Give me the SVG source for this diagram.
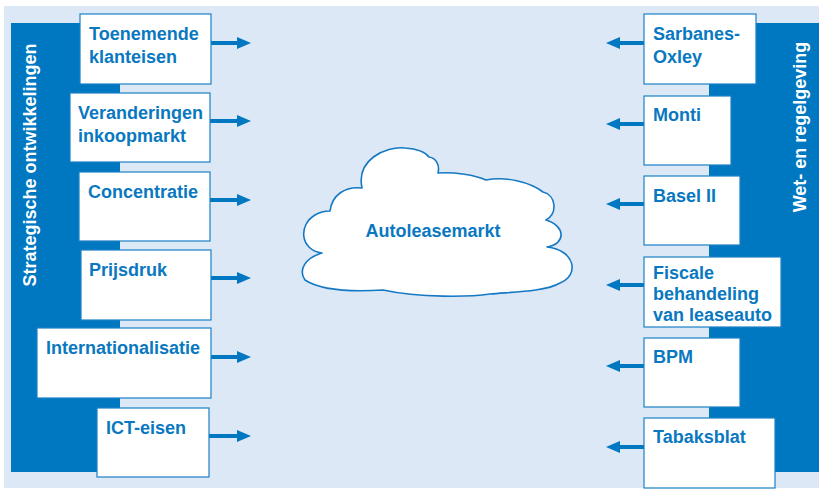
<svg xmlns="http://www.w3.org/2000/svg" width="819" height="492" viewBox="0 0 819 492">
<defs>
<style>
.box{fill:#ffffff;stroke:#1a80c6;stroke-width:1.2}
.bar{fill:#0077c1}
.t{font-family:"Liberation Sans",Arial,sans-serif;font-weight:bold;font-size:18px;fill:#0a78c1}
.w{font-family:"Liberation Sans",Arial,sans-serif;font-weight:bold;font-size:18px;fill:#ffffff}
.arr{stroke:#0077c1;stroke-width:4;fill:none}
.cloud{fill:#ffffff;stroke:#1479c4;stroke-width:1.6;stroke-linejoin:round}
</style>
<marker id="ah" markerUnits="userSpaceOnUse" markerWidth="14" markerHeight="12" refX="0" refY="6" orient="auto">
<path d="M0,0 L14,6 L0,12 Z" fill="#0077c1"/>
</marker>
</defs>
<rect x="0" y="0" width="819" height="492" fill="#ffffff"/>
<rect x="4" y="6" width="815" height="482" fill="#dde8f6"/>
<rect class="bar" x="11" y="23" width="109" height="449"/>
<rect class="bar" x="709" y="23" width="110" height="449"/>
<text class="w" transform="translate(36,165) rotate(-90)" text-anchor="middle">Strategische ontwikkelingen</text>
<text class="w" transform="translate(806,127) rotate(-90)" text-anchor="middle">Wet- en regelgeving</text>

<g id="connectors">
<line class="arr" x1="211" y1="43" x2="237" y2="43" marker-end="url(#ah)"/>
<line class="arr" x1="210" y1="121" x2="237" y2="121" marker-end="url(#ah)"/>
<line class="arr" x1="210" y1="200" x2="237" y2="200" marker-end="url(#ah)"/>
<line class="arr" x1="211" y1="278" x2="237" y2="278" marker-end="url(#ah)"/>
<line class="arr" x1="211" y1="357" x2="237" y2="357" marker-end="url(#ah)"/>
<line class="arr" x1="209" y1="436" x2="237" y2="436" marker-end="url(#ah)"/>
<line class="arr" x1="644" y1="43" x2="620" y2="43" marker-end="url(#ah)"/>
<line class="arr" x1="644" y1="124" x2="620" y2="124" marker-end="url(#ah)"/>
<line class="arr" x1="644" y1="204" x2="620" y2="204" marker-end="url(#ah)"/>
<line class="arr" x1="644" y1="285" x2="620" y2="285" marker-end="url(#ah)"/>
<line class="arr" x1="644" y1="366" x2="620" y2="366" marker-end="url(#ah)"/>
<line class="arr" x1="644" y1="447" x2="620" y2="447" marker-end="url(#ah)"/>
</g>

<g id="toenemende">
<rect class="box" x="80" y="14" width="131" height="70"/>
<text class="t" x="89" y="40">Toenemende</text>
<text class="t" x="89" y="63">klanteisen</text>
</g>
<g id="veranderingen">
<rect class="box" x="70" y="93" width="140" height="69"/>
<text class="t" x="78" y="119">Veranderingen</text>
<text class="t" x="78" y="142">inkoopmarkt</text>
</g>
<g id="concentratie">
<rect class="box" x="79" y="172" width="131" height="69"/>
<text class="t" x="88" y="198">Concentratie</text>
</g>
<g id="prijsdruk">
<rect class="box" x="81" y="250" width="130" height="70"/>
<text class="t" x="89" y="276">Prijsdruk</text>
</g>
<g id="internationalisatie">
<rect class="box" x="37" y="328" width="174" height="70"/>
<text class="t" x="46" y="354">Internationalisatie</text>
</g>
<g id="ict-eisen">
<rect class="box" x="97" y="408" width="112" height="69"/>
<text class="t" x="106" y="434">ICT-eisen</text>
</g>

<g id="sarbanes-oxley">
<rect class="box" x="644" y="14" width="112" height="70"/>
<text class="t" x="653" y="40">Sarbanes-</text>
<text class="t" x="653" y="63">Oxley</text>
</g>
<g id="monti">
<rect class="box" x="644" y="96" width="87" height="69"/>
<text class="t" x="653" y="121">Monti</text>
</g>
<g id="basel">
<rect class="box" x="644" y="176" width="96" height="69"/>
<text class="t" x="653" y="202">Basel II</text>
</g>
<g id="fiscale">
<rect class="box" x="644" y="257" width="137" height="70"/>
<text class="t" x="653" y="279">Fiscale</text>
<text class="t" x="653" y="300">behandeling</text>
<text class="t" x="653" y="321">van leaseauto</text>
</g>
<g id="bpm">
<rect class="box" x="644" y="338" width="96" height="69"/>
<text class="t" x="653" y="363">BPM</text>
</g>
<g id="tabaksblat">
<rect class="box" x="644" y="418" width="131" height="70"/>
<text class="t" x="653" y="443">Tabaksblat</text>
</g>

<g id="autoleasemarkt">
<path class="cloud" d="M362,188 C356,160 385,146 405,148 C418,149 426,153 429,157 C436,158 440,165 438,173 C455,172 475,175 486,180 C505,176 530,182 543,192 C556,195 558,213 546,220 C566,226 566,244 547,247 C575,250 580,275 560,283 C545,292 510,292 490,294 C470,297 420,298 383,290 C350,292 320,290 305,280 C298,270 305,258 322,253 C300,250 298,225 315,215 C320,212 326,211 330,211 C332,195 345,186 362,188 Z"/>
<text class="t" x="433" y="237" text-anchor="middle">Autoleasemarkt</text>
</g>
</svg>
